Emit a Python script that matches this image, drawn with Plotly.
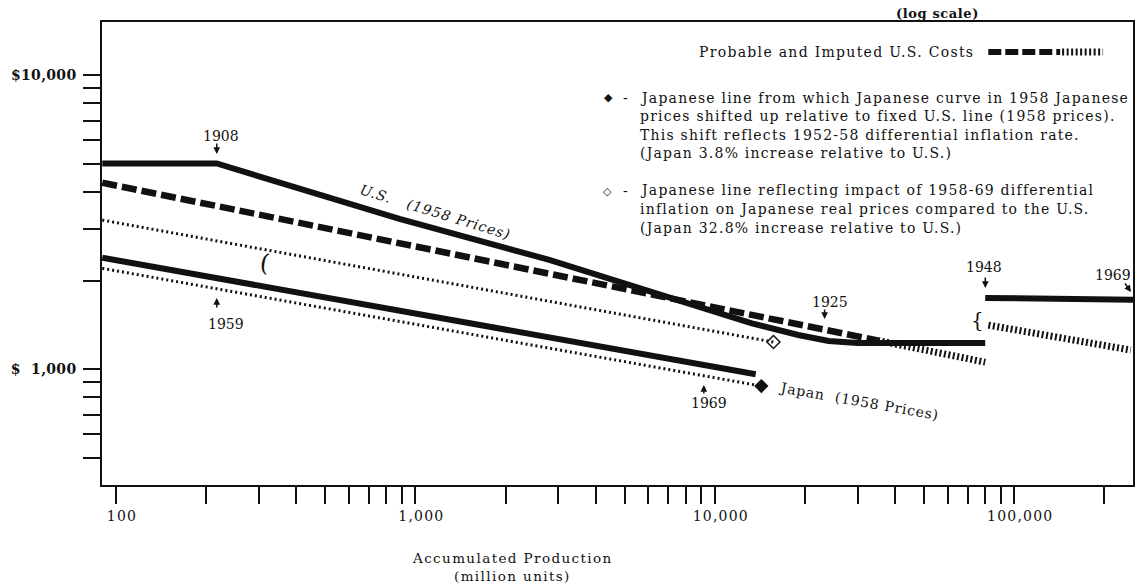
import math
import plotly.graph_objects as go

# ---------------------------------------------------------------------------
# Experience curves: cost per unit vs. accumulated production (log-log)
# x = accumulated production (million units), y = unit cost (1958 dollars)
# ---------------------------------------------------------------------------
us_x = [90, 217, 885, 2800, 13300, 19000, 24000, 30000, 80000]
us_y = [5000, 5000, 3240, 2350, 1430, 1305, 1245, 1225, 1225]

us48_x = [80000, 250000]
us48_y = [1745, 1720]

imputed_x = [90, 35000]
imputed_y = [4300, 1250]
imputed_tail_x = [35000, 80000]
imputed_tail_y = [1250, 1055]
imputed48_x = [82000, 245000]
imputed48_y = [1410, 1160]

jp_x = [90, 13700]
jp_y = [2390, 960]

jp_shift_x = [90, 14300]
jp_shift_y = [2200, 875]

jp_real_x = [90, 15700]
jp_real_y = [3210, 1235]

x_tickvals = [100, 200, 300, 400, 500, 600, 700, 800, 900,
              1000, 2000, 3000, 4000, 5000, 6000, 7000, 8000, 9000,
              10000, 20000, 30000, 40000, 50000, 60000, 70000, 80000, 90000,
              100000, 200000]
x_ticklabels = {100: "100", 1000: "1,000", 10000: "10,000", 100000: "100,000"}

y_tickvals = [500, 600, 700, 800, 900, 1000,
              2000, 3000, 4000, 5000, 6000, 7000, 8000, 9000, 10000]
y_ticklabels = {1000: "$\u00a0\u00a01,000", 10000: "$10,000"}

note_1 = ["Japanese line from which Japanese curve in 1958 Japanese",
          "prices shifted up relative to fixed U.S. line (1958 prices).",
          "This shift reflects 1952-58 differential inflation rate.",
          "(Japan 3.8% increase relative to U.S.)"]
note_2 = ["Japanese line reflecting impact of 1958-69 differential",
          "inflation on Japanese real prices compared to the U.S.",
          "(Japan 32.8% increase relative to U.S.)"]

# ---------------------------------------------------------------------------
W, H = 1137, 585
ML, MR, MT, MB = 102, 2, 22, 100
SERIF = "DejaVu Serif"
INK = "#111111"


def fx(p):
    return (p - ML) / (W - ML - MR)


def fy(p):
    return (H - MB - p) / (H - MT - MB)


def spaced(s, ls):
    """Typewriter-style tracking for a text run."""
    if not ls:
        return s
    return f'<span style="letter-spacing:{ls}px">{s}</span>'


fig = go.Figure()


def line(xs, ys, width, dash="solid"):
    fig.add_trace(go.Scatter(x=xs, y=ys, mode="lines",
                             line=dict(color=INK, width=width, dash=dash),
                             hoverinfo="skip"))


line(us_x, us_y, 6)
line(us48_x, us48_y, 6)
line(imputed_x, imputed_y, 6.5, "15px,5px")
line(imputed_tail_x, imputed_tail_y, 7, "2px,2.5px")
line(imputed48_x, imputed48_y, 7, "2px,2.5px")
line(jp_x, jp_y, 6)
line(jp_shift_x, jp_shift_y, 3, "2px,3px")
line(jp_real_x, jp_real_y, 3, "2px,3px")

fig.add_trace(go.Scatter(x=jp_shift_x[-1:], y=jp_shift_y[-1:], mode="markers",
                         marker=dict(symbol="diamond", size=11, color=INK),
                         hoverinfo="skip"))
fig.add_trace(go.Scatter(x=jp_real_x[-1:], y=jp_real_y[-1:], mode="markers",
                         marker=dict(symbol="diamond-open", size=10, color=INK,
                                     line=dict(width=1.5, color=INK)),
                         hoverinfo="skip"))

annotations = []


def text(s, cx, cy, size=14, anchor="center", angle=0, style="normal",
         weight="normal", family=SERIF, ls=0):
    annotations.append(dict(text=spaced(s, ls), x=fx(cx), y=fy(cy),
                            xref="paper", yref="paper",
                            showarrow=False, xanchor=anchor, yanchor="middle",
                            textangle=angle,
                            font=dict(family=family, size=size, color=INK,
                                      style=style, weight=weight)))


def arrow(tipx, tipy, tailx, taily):
    annotations.append(dict(text="", x=fx(tipx), y=fy(tipy), xref="paper", yref="paper",
                            showarrow=True, ax=tailx - tipx, ay=taily - tipy,
                            arrowhead=2, arrowsize=0.9, arrowwidth=1.5,
                            arrowcolor=INK, standoff=0))


# year markers along the curves
text("1908", 221, 136)
arrow(217, 154, 217, 142)
text("1959", 226, 324)
arrow(217, 298, 217, 309)
text("1969", 710, 403)
arrow(705, 385, 705, 395)
text("1925", 831, 302)
arrow(826, 319, 826, 308)
text("1948", 986, 267)
arrow(987, 288, 987, 276)
text("1969", 1115, 275)
arrow(1133, 292, 1126, 282)

# curve labels
text("U.S.   (1958 Prices)", 436, 212, size=14, angle=17, style="italic", ls=1)
text("Japan  (1958 Prices)", 860, 401, size=14, angle=10, ls=0.8)

# small brackets marking shifts
text("(", 265, 263, size=24, angle=8)
text("{", 979, 320, size=20)

# key / notes
text("(log scale)", 939, 14, size=13, weight="bold", ls=0.6)
text("Probable and Imputed U.S. Costs", 698, 52, anchor="left", ls=1.3)
text("◆", 609, 98, size=11, family="DejaVu Sans")
text("-", 627, 98)
for i, s in enumerate(note_1):
    text(s, 639, 98 + i * 18.3, anchor="left", ls=1.22)
text("◇", 608, 191, size=11, family="DejaVu Sans")
text("-", 627, 191)
for i, s in enumerate(note_2):
    text(s, 639, 190 + i * 19, anchor="left", ls=1.22)

# axis title
text("Accumulated Production", 513, 558, size=13.5, ls=1.4)
text("(million units)", 513, 576, size=13.5, ls=1.4)

shapes = [
    dict(type="line", xref="paper", yref="paper", x0=fx(990), x1=fx(1062),
         y0=fy(52), y1=fy(52), line=dict(color=INK, width=6, dash="13px,4px")),
    dict(type="line", xref="paper", yref="paper", x0=fx(1064), x1=fx(1105),
         y0=fy(52), y1=fy(52), line=dict(color=INK, width=7, dash="2px,2.5px")),
]

fig.update_layout(
    width=W, height=H,
    margin=dict(l=ML, r=MR, t=MT, b=MB),
    paper_bgcolor="white", plot_bgcolor="white",
    showlegend=False,
    annotations=annotations,
    shapes=shapes,
)

fig.update_xaxes(
    type="log",
    range=[2 - 14 / 300, 2 + 1019 / 300],
    tickvals=x_tickvals,
    ticktext=[spaced(x_ticklabels[v], 1.2) if v in x_ticklabels else ""
              for v in x_tickvals],
    ticks="outside", ticklen=17, tickwidth=1.5, tickcolor=INK,
    showline=True, linecolor=INK, linewidth=1.5, mirror=True,
    showgrid=False, zeroline=False,
    ticklabelshift=6,
    tickfont=dict(family=SERIF, size=14, color=INK),
)
fig.update_yaxes(
    type="log",
    range=[3 - 116 / 294, 4 + 53 / 294],
    tickvals=y_tickvals,
    ticktext=[spaced(y_ticklabels[v], 0.3) if v in y_ticklabels else ""
              for v in y_tickvals],
    ticks="outside", ticklen=17, tickwidth=1.5, tickcolor=INK,
    showline=True, linecolor=INK, linewidth=1.5, mirror=True,
    showgrid=False, zeroline=False,
    ticklabelstandoff=4,
    tickfont=dict(family=SERIF, size=14, color=INK, weight="bold"),
)

fig.write_html("out.html")
